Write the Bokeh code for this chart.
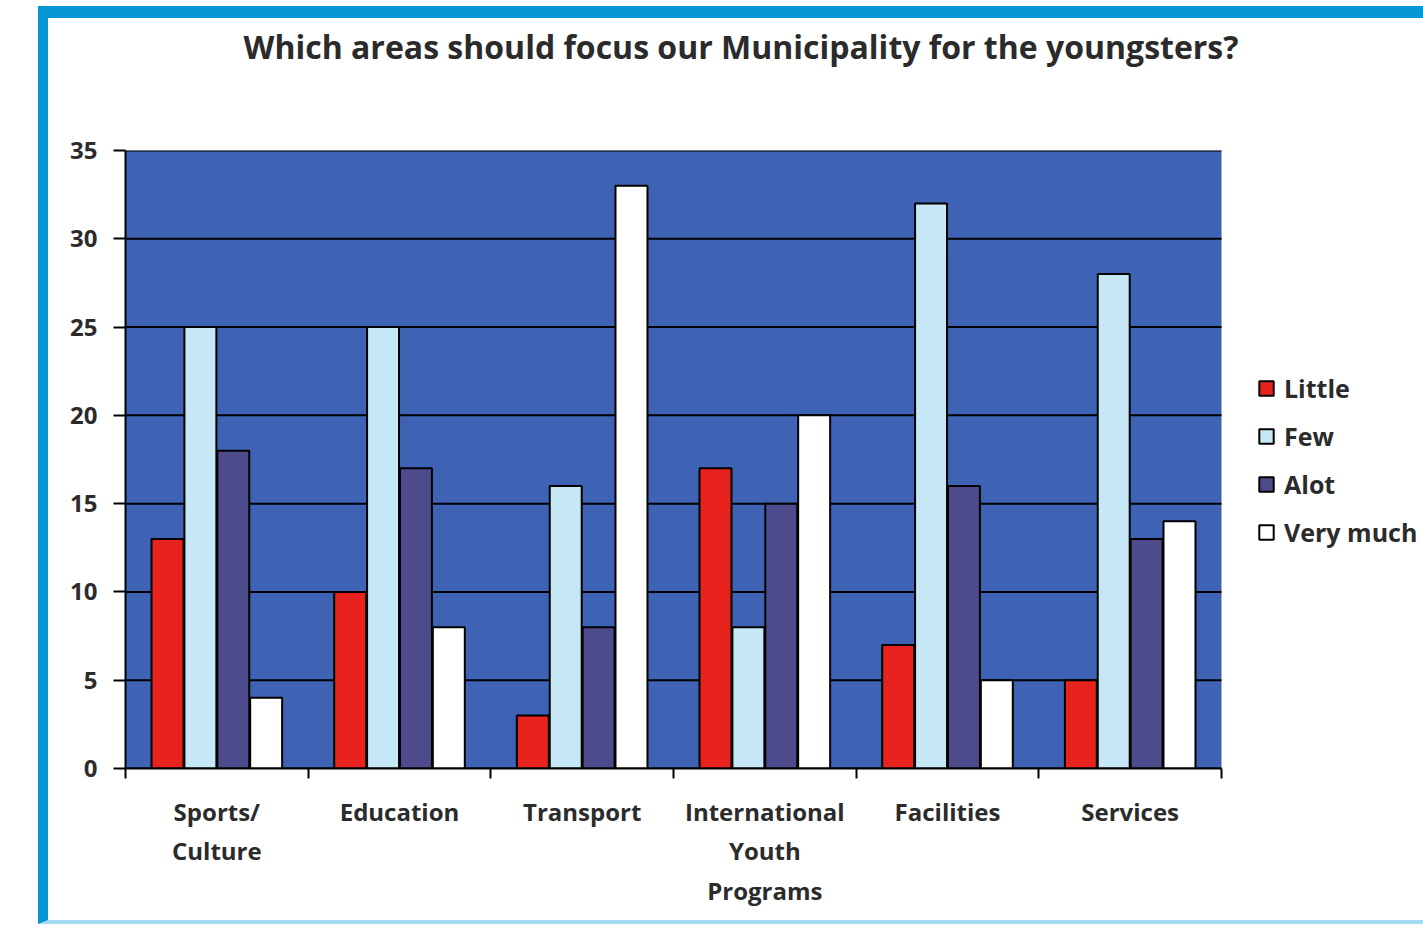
from bokeh.plotting import figure
from bokeh.models import (ColumnDataSource, FixedTicker, Legend, LegendItem, Title,
                          BoxAnnotation)
from bokeh.transform import dodge
from bokeh.embed import file_html
from bokeh.resources import INLINE

categories = ["Sports/\nCulture", "Education", "Transport",
              "International\nYouth\nPrograms", "Facilities", "Services"]
little = [13, 10, 3, 17, 7, 5]
few = [25, 25, 16, 8, 32, 28]
alot = [18, 17, 8, 15, 16, 13]
very_much = [4, 8, 33, 20, 5, 14]
series_names = ["Little", "Few", "Alot", "Very much"]
y_ticks = [0, 5, 10, 15, 20, 25, 30, 35]

title_text = "Which areas should focus our Municipality for the youngsters?"

n = len(categories)
xs = [i + 0.5 for i in range(n)]
source = ColumnDataSource(dict(x=xs, little=little, few=few, alot=alot, very_much=very_much))

FONT = "Open Sans"
TXT = "#2b2b2b"
FRAME_BLUE = "#0796D5"
PLOT_BLUE = "#3F63B4"

W, H = 1385, 918
LEFT, RIGHT, TOP, BOTTOM = 77, 5, 132, 168
PLOT_W = 1096          # width (px) of the blue plot area holding the categories
frame_w = W - LEFT - RIGHT
x_end = n * frame_w / PLOT_W   # extra room on the right holds the legend

p = figure(width=W, height=H,
           x_range=(0, x_end), y_range=(0, 35),
           output_backend="svg", toolbar_location=None,
           min_border_left=LEFT, min_border_right=RIGHT,
           min_border_top=TOP, min_border_bottom=BOTTOM)

p.styles = {"margin-left": "38px", "margin-top": "6px",
            "border-left": "10px solid " + FRAME_BLUE,
            "border-top": "12px solid " + FRAME_BLUE,
            "border-bottom": "4px solid #A5DBF3"}

p.background_fill_color = "white"
p.border_fill_color = "white"
p.outline_line_color = None

# main title
p.title.text = title_text
p.title.align = "left"
p.title.offset = 118
p.title.standoff = 0
p.title.vertical_align = "bottom"
p.title.text_font = FONT
p.title.text_font_size = "32px"
p.title.text_font_style = "bold"
p.title.text_color = TXT

# spacer between the title and the plot area
p.add_layout(Title(text=" ", text_font_size="10px", standoff=70), "above")

# blue plot area
p.add_layout(BoxAnnotation(left=0, right=n, fill_color=PLOT_BLUE, fill_alpha=1,
                           line_color=None, level="underlay"))

# horizontal grid lines across the plot area
p.segment(x0=[0] * len(y_ticks), x1=[n] * len(y_ticks), y0=y_ticks, y1=y_ticks,
          line_color="black", line_width=2)

colors = ["#E8231E", "#C6E7F6", "#4D4B8C", "#FFFFFF"]
fields = ["little", "few", "alot", "very_much"]
offsets = [-0.27, -0.09, 0.09, 0.27]
items = []
for name, field, col, off in zip(series_names, fields, colors, offsets):
    r = p.vbar(x=dodge("x", off, range=p.x_range), top=field, width=0.175, source=source,
               fill_color=col, line_color="black", line_width=2)
    items.append(LegendItem(label=name, renderers=[r]))

legend = Legend(items=items, location=(1132, 219), margin=0, padding=0,
                border_line_color=None, background_fill_alpha=0,
                label_text_font=FONT, label_text_font_size="25px",
                label_text_font_style="bold", label_text_color=TXT,
                glyph_width=18, glyph_height=18, label_height=20,
                label_standoff=9, spacing=14)
p.add_layout(legend, "center")

# x axis
xa = p.xaxis[0]
xa.bounds = (0, n)
xa.ticker = FixedTicker(ticks=xs, minor_ticks=list(range(n + 1)))
xa.major_label_overrides = {x: c for x, c in zip(xs, categories)}
xa.axis_line_color = "black"
xa.axis_line_width = 2
xa.major_tick_in = 0
xa.major_tick_out = 0
xa.minor_tick_in = 0
xa.minor_tick_out = 10
xa.minor_tick_line_color = "black"
xa.minor_tick_line_width = 2
xa.major_label_standoff = 16
xa.major_label_text_font = FONT
xa.major_label_text_font_size = "24px"
xa.major_label_text_font_style = "bold"
xa.major_label_text_color = TXT
xa.major_label_text_line_height = 1.2

# y axis
ya = p.yaxis[0]
ya.ticker = FixedTicker(ticks=y_ticks)
ya.axis_line_color = "black"
ya.axis_line_width = 2
ya.major_tick_in = 0
ya.major_tick_out = 12
ya.major_tick_line_color = "black"
ya.major_tick_line_width = 2
ya.minor_tick_line_color = None
ya.major_label_standoff = 16
ya.major_label_text_font = FONT
ya.major_label_text_font_size = "24px"
ya.major_label_text_font_style = "bold"
ya.major_label_text_color = TXT

p.xgrid.visible = False
p.ygrid.visible = False

open("out.html", "w").write(file_html(p, INLINE))
